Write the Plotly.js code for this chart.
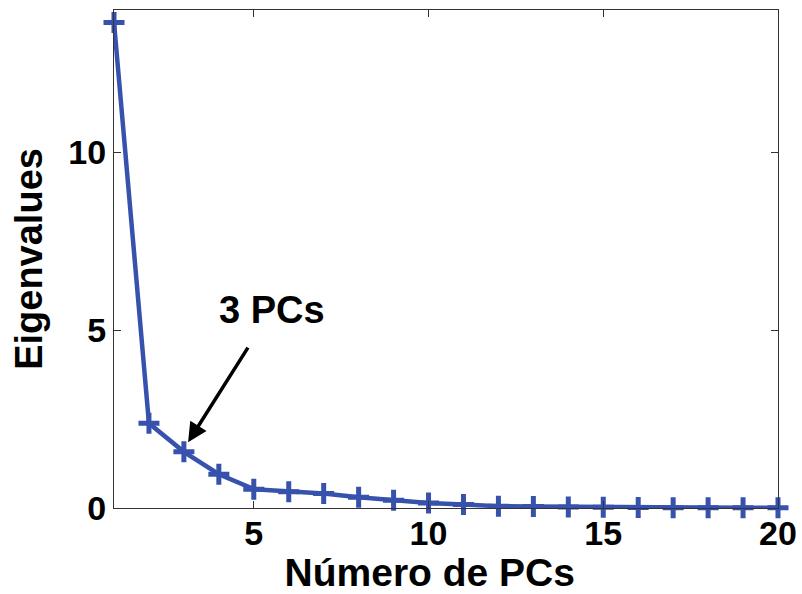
<!DOCTYPE html>
<html>
<head>
<meta charset="utf-8">
<script src="https://cdn.plot.ly/plotly-3.0.1.min.js"></script>
<style>html,body{margin:0;padding:0;background:#fff;}#chart{width:802px;height:594px;}</style>
</head>
<body>
<div id="chart"></div>
<script>
const pcs = [1,2,3,4,5,6,7,8,9,10,11,12,13,14,15,16,17,18,19,20];
const eigenvalues = [13.65,2.38,1.58,0.95,0.53,0.46,0.41,0.30,0.22,0.14,0.10,0.05,0.04,0.03,0.02,0.015,0.01,0.01,0.005,0.005];
const xTicks = [5,10,15,20];
const yTicks = [0,5,10];
const annText = '3 PCs';

const lineColor = 'rgb(55,82,172)';
const fontFam = 'Liberation Sans, Arial, sans-serif';

const trace = {
  x: pcs, y: eigenvalues, mode: 'lines+markers', type: 'scatter',
  line: {color: lineColor, width: 4.5},
  marker: {symbol: 'cross-thin', size: 15, line: {color: lineColor, width: 5}, color: lineColor},
  cliponaxis: false, hoverinfo: 'none'
};

const axisCommon = {
  showline: true, linecolor: '#333', linewidth: 1, mirror: 'ticks',
  ticks: 'inside', ticklen: 7, tickwidth: 1, tickcolor: '#333',
  showgrid: false, zeroline: false,
  tickfont: {family: fontFam, size: 34, color: '#000', weight: 'bold'}
};

const layout = {
  width: 802, height: 594,
  margin: {l: 114, r: 24, t: 10, b: 86},
  paper_bgcolor: '#fff', plot_bgcolor: '#fff',
  showlegend: false,
  xaxis: Object.assign({}, axisCommon, {
    range: [1, 20], tickvals: xTicks, ticktext: xTicks.map(String),
    ticklabelstandoff: -5,
    title: {text: 'Número de PCs&nbsp;&nbsp;&nbsp;', font: {family: fontFam, size: 39, color: '#000', weight: 'bold'}, standoff: 5}
  }),
  yaxis: Object.assign({}, axisCommon, {
    range: [0, 14], tickvals: yTicks, ticktext: yTicks.map(String),
    title: {text: 'Eigenvalues', font: {family: fontFam, size: 38, color: '#000', weight: 'bold'}, standoff: 14}
  }),
  annotations: [
    {x: 3.12, y: 1.85, ax: 4.86, ay: 4.55, xref: 'x', yref: 'y', axref: 'x', ayref: 'y',
     text: '', showarrow: true, arrowhead: 2, arrowsize: 1.1, arrowwidth: 3.5, arrowcolor: '#000'},
    {x: 5.52, y: 5.56, xref: 'x', yref: 'y', text: annText, showarrow: false,
     font: {family: fontFam, size: 38, color: '#000', weight: 'bold'}}
  ]
};

Plotly.newPlot('chart', [trace], layout, {displayModeBar: false, staticPlot: true});
</script>
</body>
</html>
